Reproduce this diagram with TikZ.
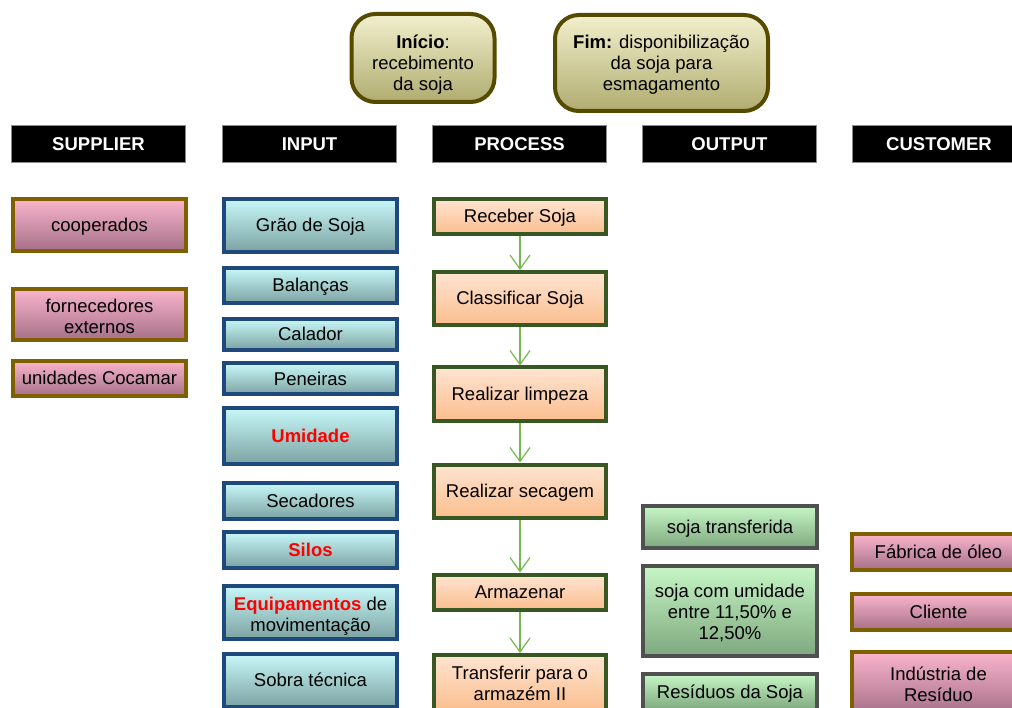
\documentclass[tikz,border=0pt]{standalone}
\usepackage{fontspec}
\setmainfont{Liberation Sans}
\usetikzlibrary{arrows.meta}

% palette
\definecolor{pinkTop}{RGB}{249,181,204}
\definecolor{pinkBot}{RGB}{166,112,136}
\definecolor{brownB}{RGB}{127,96,0}
\definecolor{cyanTop}{RGB}{200,248,248}
\definecolor{cyanBot}{RGB}{124,162,162}
\definecolor{blueB}{RGB}{31,73,125}
\definecolor{peachTop}{RGB}{255,228,210}
\definecolor{peachBot}{RGB}{250,190,142}
\definecolor{greenB}{RGB}{56,87,35}
\definecolor{mintTop}{RGB}{198,246,198}
\definecolor{mintBot}{RGB}{126,168,126}
\definecolor{grayB}{RGB}{80,80,80}
\definecolor{tanTop}{RGB}{242,240,205}
\definecolor{tanBot}{RGB}{176,172,112}
\definecolor{oliveB}{RGB}{84,74,0}
\definecolor{flowGreen}{RGB}{119,183,79}

% struts that fix the height of the first line and the depth of the last one
\newcommand{\toprl}[1][16.5pt]{\rule{0pt}{#1}}
\newcommand{\botrl}{\rule[-4pt]{0pt}{4pt}}

\tikzset{
  base/.style={rectangle, align=center, inner sep=2pt, text=black,
    font=\fontsize{18.5}{21}\selectfont},
  hdr/.style={base, fill=black, draw=black!45, line width=1pt, text=white,
    font=\fontsize{18.5}{21}\selectfont\bfseries,
    minimum width=174pt, minimum height=37pt},
  supbox/.style={base, top color=pinkTop, bottom color=pinkBot, draw=brownB,
    line width=3.5pt, minimum width=173pt},
  inbox/.style={base, top color=cyanTop, bottom color=cyanBot, draw=blueB,
    line width=4pt, minimum width=173pt},
  procbox/.style={base, top color=peachTop, bottom color=peachBot, draw=greenB,
    line width=4pt, minimum width=172pt},
  outbox/.style={base, top color=mintTop, bottom color=mintBot, draw=grayB,
    line width=4pt, minimum width=174pt},
  endbox/.style={base, rounded corners=24pt, top color=tanTop, bottom color=tanBot,
    draw=oliveB, line width=4pt},
  flow/.style={draw=flowGreen, line width=1.2pt,
    -{Straight Barb[length=14pt,width=20pt,line width=1.2pt]}}
}
\newcommand{\redword}[1]{\textcolor{red}{\textbf{#1}}}

\begin{document}
\begin{tikzpicture}[x=1pt,y=-1pt]
\useasboundingbox (0,0) rectangle (1012,708);
\clip (0,0) rectangle (1012,708);

% start and end of the flow
\node[endbox, minimum width=143pt, minimum height=88pt] (start) at (423,58)
  {\toprl[28pt]\textbf{Início}:\\recebimento\\da soja\botrl};
\node[endbox, minimum width=213pt, minimum height=96pt] (finish) at (661.5,63)
  {\toprl[18pt]\textbf{Fim:} disponibilização\\da soja para\\esmagamento\botrl};

% column headers
\node[hdr] (hsup)  at (98.5,144)  {\toprl SUPPLIER\botrl};
\node[hdr] (hin)   at (309.5,144) {\toprl INPUT\botrl};
\node[hdr] (hproc) at (519.5,144) {\toprl PROCESS\botrl};
\node[hdr] (hout)  at (729.5,144) {\toprl OUTPUT\botrl};
\node[hdr] (hcust) at (939,144)   {\toprl CUSTOMER\botrl};

% suppliers
\node[supbox, minimum height=52pt] (s1) at (99.5,225)   {\toprl cooperados\botrl};
\node[supbox, minimum height=51pt] (s2) at (99.5,314.5) {\toprl[20.5pt]fornecedores\\externos\botrl};
\node[supbox, minimum height=35pt] (s3) at (99.5,378.5) {\toprl unidades Cocamar\botrl};

% inputs
\node[inbox, minimum height=53pt] (i1) at (310.5,225.5) {\toprl Grão de Soja\botrl};
\node[inbox, minimum height=35pt] (i2) at (310.5,285.5) {\toprl Balanças\botrl};
\node[inbox, minimum height=31pt] (i3) at (310.5,334.5) {\toprl Calador\botrl};
\node[inbox, minimum height=31pt] (i4) at (310.5,379)   {\toprl Peneiras\botrl};
\node[inbox, minimum height=56pt] (i5) at (310.5,436)   {\toprl\redword{Umidade}\botrl};
\node[inbox, minimum height=36pt] (i6) at (310.5,501)   {\toprl Secadores\botrl};
\node[inbox, minimum height=36pt] (i7) at (310.5,550)   {\toprl\redword{Silos}\botrl};
\node[inbox, minimum height=53pt] (i8) at (310.5,612)   {\toprl[21.5pt]\redword{Equipamentos} de\\movimentação\botrl};
\node[inbox, minimum height=53pt] (i9) at (310.5,680.5) {\toprl Sobra técnica\botrl};

% process steps
\node[procbox, minimum height=35pt] (p1) at (520,216.5) {\toprl Receber Soja\botrl};
\node[procbox, minimum height=53pt] (p2) at (520,298.5) {\toprl Classificar Soja\botrl};
\node[procbox, minimum height=53pt] (p3) at (520,394)   {\toprl Realizar limpeza\botrl};
\node[procbox, minimum height=53pt] (p4) at (520,491)   {\toprl Realizar secagem\botrl};
\node[procbox, minimum height=35pt] (p5) at (520,592)   {\toprl Armazenar\botrl};
\node[procbox, minimum height=56pt] (p6) at (520,683)   {\toprl[18.5pt]Transferir para o\\armazém II\botrl};

\draw[flow] (p1.south) -- (p2.north);
\draw[flow] (p2.south) -- (p3.north);
\draw[flow] (p3.south) -- (p4.north);
\draw[flow] (p4.south) -- (p5.north);
\draw[flow] (p5.south) -- (p6.north);

% outputs
\node[outbox, minimum height=42pt] (o1) at (730,527) {\toprl soja transferida\botrl};
\node[outbox, minimum height=90pt] (o2) at (730,611) {\toprl[18pt]soja com umidade\\entre 11,50\% e\\12,50\%\botrl};
\node[outbox, minimum height=36pt] (o3) at (730,692) {\toprl Resíduos da Soja\botrl};

% customers
\node[supbox, minimum height=36pt] (c1) at (938.5,552) {\toprl Fábrica de óleo\botrl};
\node[supbox, minimum height=36pt] (c2) at (938.5,612) {\toprl Cliente\botrl};
\node[supbox, minimum height=62pt] (c3) at (938.5,683) {\toprl[19pt]Indústria de\\Resíduo\botrl};
\end{tikzpicture}
\end{document}
